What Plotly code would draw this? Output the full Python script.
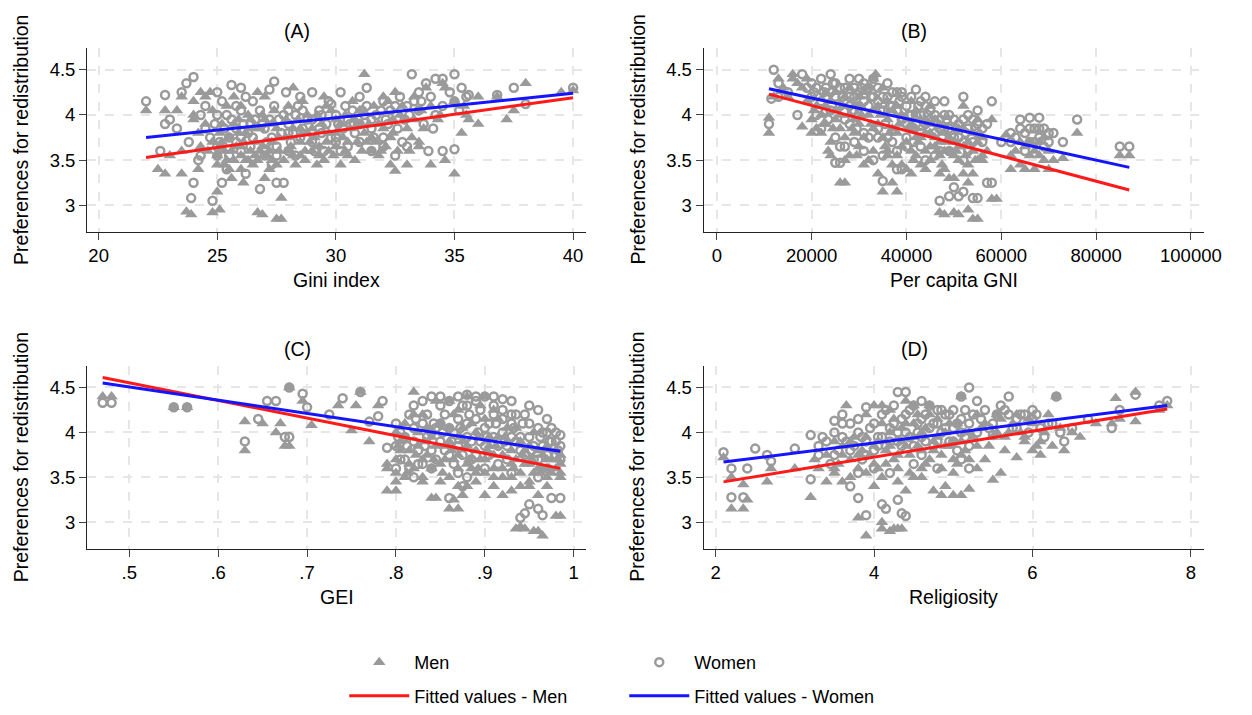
import plotly.graph_objects as go

# ---------------- data ----------------
# Panel A: Gini index
gini_men = [(22,4.05),(22.5,3.4),(22.8,3.35),(22.8,4.05),(23,3.55),(23.3,4.05),(23.5,3.35),(23.5,3.6),(23.7,2.93),(23.9,2.9),
            (24,3.95),(24,4.15),(24.2,3.4),(24.3,3.65),(24.5,4.2),(24.7,4.25),(24.8,2.92),(25,3.45),(25,3.15),(25.1,2.95),
            (25.2,3.7),(25.5,3.4),(25.7,3.5),(26,4.1),(26.2,3.5),(26.5,3.45),(26.6,3.7),(26.7,2.92),(26.9,2.9),(27,3.3),
            (27,4.2),(27.3,3.9),(27.5,2.85),(27.7,2.85),(27.7,3.08),(28,3.6),(28.2,4.3),(28.5,3.55),(28.8,4.0),(29,3.6),
            (29.5,3.5),(29.7,3.6),(30,3.8),(30.5,3.55),(31,3.9),(31.2,4.45),(31.5,3.6),(32,4.2),(32.3,3.45),(32.5,3.38),
            (33,3.45),(33.3,4.2),(33.5,3.65),(34,3.45),(34.3,3.95),(34.5,4.35),(34.6,3.5),(35,3.35),(35.3,3.8),(35.6,3.95),
            (36.8,4.2),(37.2,3.95),(37.5,4.05),(38,4.35),(39.5,4.25),(40,4.27),
            (25,3.55),(25.3,3.6),(25.5,3.75),(25.8,3.65),(26,3.55),(26.2,3.8),(26.4,3.6),(26.7,3.5),(26.9,3.65),(27.1,3.55),
            (27.3,3.7),(27.6,3.6),(27.9,3.75),(28.2,3.85),(28.5,3.7),(28.8,3.8),(29.1,3.75),(29.4,3.9),(29.7,3.8),(30,3.65),
            (30.3,3.75),(30.6,3.85),(30.9,3.7),(31.2,3.8),(31.5,3.75),(31.8,3.9),(32.1,3.65),(32.4,3.95),(32.7,4.0),(33,3.85),
            (33.3,3.95),(24.5,3.9),(24.8,3.7),(25.2,3.9),(25.9,3.95),(26.3,4.0),(26.8,3.85),(27.4,4.05),(28,4.1),(28.6,4.15),
            (29.2,4.0),(29.8,4.05),(30.4,4.0),(31,4.05),(31.6,4.1),(32.2,4.15),(32.8,4.1),(33.6,4.05),(34,4.1),(35,4.15),
            (35.5,4.0),(36,3.9),(23.5,4.2),(24,4.0),(24.2,3.8),(24.6,3.6),(26,3.4),(27.5,3.45),(28.7,3.5),(30.2,3.45),
            (31.8,3.55),(33.5,3.7),
            (24.8,4.05),(25.1,3.8),(25.4,4.1),(25.6,3.6),(25.9,3.8),(26.1,3.7),(26.4,3.95),(26.6,3.55),(26.9,4.0),(27.2,3.6),
            (27.5,3.85),(27.8,3.5),(28.1,3.65),(28.4,3.95),(28.7,3.6),(29,3.85),(29.3,3.65),(29.6,4.1),(29.9,3.55),(30.2,3.9),
            (30.5,3.7),(30.8,3.95),(31.1,3.6),(31.4,3.9),(31.7,3.7),(32,3.85),(32.3,3.75),(32.6,3.6),(32.9,3.95),(33.2,3.75),
            (25.3,3.45),(25.6,3.3),(26.1,3.25),(27.2,3.4),(28.3,3.45),(29.2,3.45),(24.3,4.25),(25.7,4.2),(26.7,4.25),(29.5,4.2),
            (30.7,4.15),(32.5,4.25),(33.8,4.3),(34.6,4.3),(35.4,4.1),(36,4.2),
            (25.1,3.65),(25.4,3.5),(25.7,3.9),(26.0,3.65),(26.3,3.5),(26.5,3.85),(26.8,3.6),(27.0,3.95),(27.3,3.5),(27.6,3.75),
            (27.9,3.95),(28.2,3.55),(28.5,3.85),(28.9,3.7),(29.3,3.55),(29.6,3.7),(30.0,3.95),(30.4,3.6),(30.8,3.5),(31.3,3.7),
            (31.9,3.6),(32.4,3.8),(33.1,3.6),(33.7,3.85),(34.4,4.0)]
gini_women = [(22,4.15),(22.6,3.6),(22.8,4.22),(23.0,3.95),(23.5,4.25),(23.7,4.35),(24,4.42),(24,3.25),(24.2,3.5),(23.9,3.08),
              (24.3,4.0),(24.5,3.85),(24.8,3.05),(25,3.55),(25,4.25),(25.2,3.25),(25.6,4.33),(25.8,4.1),(26,3.75),(26.4,3.9),
              (26.5,4.15),(26.8,3.18),(27,3.6),(27.2,4.28),(27.4,4.37),(27.5,3.25),(27.8,3.25),(28,3.8),(28,4.05),(28.5,4.2),
              (29,4.25),(29.3,3.85),(29.8,4.12),(30,3.7),(30.5,3.95),(31,4.2),(31.5,3.95),(32,3.65),(32.5,3.55),(32.8,3.7),
              (33,3.65),(33.2,4.45),(33.5,4.25),(33.9,3.6),(34.2,4.4),(34.5,3.6),(35,3.62),(35,4.45),(35.3,4.3),(35.5,4.2),
              (36.8,4.22),(37.5,4.3),(38,4.12),(40,4.3),
              (24.5,4.1),(25,4.0),(25.3,3.85),(25.6,3.95),(26,4.05),(26.3,3.8),(26.6,3.95),(27,3.85),(27.3,3.75),(27.6,3.95),
              (28,3.9),(28.3,4.0),(28.6,3.85),(29,3.95),(29.3,4.05),(29.6,3.9),(30,4.0),(30.3,3.85),(30.7,4.05),(31,3.9),
              (31.3,4.1),(31.7,4.0),(32,4.15),(32.3,4.05),(32.7,4.2),(33,4.1),(33.5,4.05),(34,4.2),(34.5,4.1),(35,4.15),
              (35.6,4.22),(25,3.65),(25.5,3.55),(26,3.6),(26.5,3.5),(27,3.55),(27.5,3.65),(28,3.6),(28.5,3.75),(29,3.7),
              (29.5,3.6),(30,3.75),(30.5,3.65),(31,3.7),(31.5,3.6),(32,3.75),(23.3,3.85),(23.8,3.7),(24.3,3.55),(22.8,3.9),
              (24.7,3.75),(25.2,4.15),(25.5,3.75),(25.8,3.85),(26.2,4.2),(26.4,3.65),(26.8,4.05),(27.1,3.7),(27.4,4.1),(27.7,3.8),
              (28.1,3.7),(28.4,4.1),(28.8,3.95),(29.1,3.6),(29.4,3.8),(29.7,4.15),(30.1,3.9),(30.4,4.1),(30.8,3.8),(31.2,4.0),
              (31.5,3.85),(31.9,4.05),(32.2,3.9),(32.5,4.1),(32.9,3.95),(33.3,4.15),(33.7,3.9),(34.2,4.0),(34.8,4.25),(25.4,3.4),
              (26.2,3.35),(27.3,3.45),(28.3,3.55),(24.9,3.9),(26,4.3),(27.9,4.25),(30.2,4.25),(31.3,4.3),(33.8,4.35),(34.5,4.4),
              (25.1,3.7),(25.4,4.0),(25.8,3.7),(26.1,3.9),(26.5,3.75),(26.9,3.9),(27.2,3.95),(27.5,3.55),(27.8,4.0),(28.2,3.8),
              (28.6,4.05),(29,3.8),(29.4,4.0),(29.8,3.75),(30.2,3.6),(30.6,3.9),(31.1,4.05),(31.6,3.75),(32.1,3.95),(32.6,3.85),
              (33.1,4.0),(33.6,4.15),(34.1,3.85),(35.2,4.05)]
gini_fit_x = [22, 40]
gini_fit_men = [3.53, 4.19]
gini_fit_women = [3.75, 4.24]

# Panel B: Per capita GNI
gni_men = [(11000,3.8),(11000,3.97),(12000,4.2),(13000,4.4),(16000,4.45),(18000,3.87),(19000,4.4),(20000,3.8),(22000,3.8),(23000,4.25),
           (24000,3.7),(25000,3.95),(26000,3.25),(27000,3.25),(28000,3.55),(29000,3.8),(30000,4.1),(31000,3.45),(32000,3.5),(33000,4.4),
           (33500,4.45),(34000,3.35),(35000,3.15),(36000,3.6),(37000,3.25),(38000,3.15),(38000,3.55),(40000,3.4),(41000,3.35),(42000,3.75),
           (43000,3.45),(44000,3.95),(45000,4.1),(46000,3.65),(47000,2.92),(48000,2.9),(49000,3.3),(50000,2.92),(51000,2.9),(52000,3.35),
           (52000,4.1),(53000,2.95),(54000,2.85),(55000,2.85),(55000,3.5),(56000,3.5),(57000,3.6),(58000,3.07),(59000,3.07),(58000,3.95),
           (61000,3.78),(62000,3.4),(64000,3.45),(65000,3.4),(66000,3.55),(67000,3.4),(68000,3.7),(69000,3.5),(70000,3.4),(71000,3.5),
           (73000,3.52),(76000,3.8),(85000,3.55),(87000,3.55),
           (20000,3.95),(21000,4.1),(22000,4.0),(23000,3.9),(24000,4.15),(25000,4.05),(26000,3.85),(27000,4.2),(28000,4.0),(29000,4.1),
           (30000,3.9),(31000,4.25),(32000,4.0),(33000,3.85),(34000,4.1),(35000,4.3),(36000,3.95),(37000,4.05),(38000,3.8),(39000,4.0),
           (40000,3.7),(41000,3.9),(42000,4.05),(43000,3.75),(44000,3.6),(45000,3.8),(46000,3.95),(47000,3.7),(48000,3.6),(49000,3.75),
           (50000,3.55),(51000,3.85),(52000,3.65),(53000,3.45),(54000,3.8),(55000,3.7),(56000,3.55),(63000,3.6),(65000,3.65),(66000,3.7),
           (68000,3.55),(70000,3.6),(14000,4.3),(15000,4.2),(17000,4.35),(19000,4.15),(30000,3.65),(33000,3.6),(36000,3.55),(39000,3.45),
           (42000,3.55),(45000,3.5),(48000,3.4),(51000,3.5),(54000,3.35),
           (21000,3.85),(23000,4.1),(25000,4.25),(26000,4.0),(27000,3.75),(28000,4.3),(29000,3.95),(30000,4.2),(31000,3.75),(32000,4.3),
           (33000,4.05),(34000,3.9),(35000,3.75),(36000,4.15),(37000,3.85),(38000,4.1),(39000,3.65),(40000,3.95),(41000,4.15),(42000,3.85),
           (43000,3.95),(44000,3.8),(45000,3.65),(46000,3.75),(47000,3.55),(48000,3.8),(49000,3.6),(50000,3.7),(51000,3.65),(52000,3.85),
           (53000,3.7),(54000,3.6),(55000,3.95),(56000,3.75),(62000,3.55),(64000,3.7),(67000,3.6),(69000,3.75),(24000,3.55),(27000,3.5),
           (37000,3.45),(41000,3.6),(44000,3.4),(47000,3.35),(50000,3.3),(53000,3.25),(18000,4.3),(16000,4.4),
           (20500,4.05),(22500,3.9),(24500,3.85),(26500,4.1),(28500,3.85),(30500,4.0),(32500,3.9),(34500,4.0),(36500,3.8),(38500,3.9),
           (40500,3.85),(42500,3.7),(44500,3.9),(46500,3.6),(48500,3.7),(50500,3.6),(52500,3.55),(54500,3.5),(23500,3.6),(29500,3.55),
           (35500,3.65),(41500,3.5),(47500,3.45)]
gni_women = [(11000,3.9),(11500,4.18),(12000,4.5),(13000,4.35),(17000,4.0),(18000,4.45),(19000,4.3),(21000,4.0),(23000,4.3),(24000,4.45),
             (25000,3.47),(26000,3.47),(27000,3.65),(28000,4.1),(29000,4.2),(30000,4.4),(31000,3.6),(32000,3.75),(33000,3.5),(34000,3.75),
             (35000,3.27),(36000,3.75),(38000,3.4),(39000,3.4),(39000,4.25),(40000,3.65),(41000,4.0),(42000,4.28),(43000,3.8),(44000,4.1),
             (46000,4.0),(47000,3.05),(48000,4.15),(49000,3.1),(50000,3.2),(51000,3.1),(52000,3.15),(52000,4.2),(53000,3.6),(54000,3.08),
             (55000,3.08),(55000,4.05),(56000,3.7),(57000,3.25),(58000,4.15),(58000,3.25),(60000,3.7),(62000,3.8),(64000,3.95),(65000,3.6),
             (66000,3.97),(68000,3.97),(69000,3.85),(70000,3.8),(71000,3.8),(73000,3.7),(76000,3.95),(85000,3.65),(87000,3.65),
             (20000,4.2),(21000,4.3),(22000,4.15),(23000,4.05),(24000,4.25),(25000,4.35),(26000,4.1),(27000,4.3),(28000,4.2),(29000,4.05),
             (30000,4.25),(31000,4.35),(32000,4.1),(33000,4.2),(34000,4.3),(35000,4.05),(36000,4.2),(37000,4.1),(38000,4.25),(39000,3.95),
             (40000,4.1),(41000,3.85),(42000,4.0),(43000,4.15),(44000,3.9),(45000,4.05),(46000,3.8),(47000,3.95),(48000,3.85),(49000,4.0),
             (50000,3.75),(51000,3.9),(52000,3.7),(53000,3.85),(54000,3.95),(55000,3.8),(57000,3.9),(63000,3.75),(65000,3.8),(66000,3.7),
             (67000,3.85),(68000,3.75),(69000,3.65),(22000,3.85),(25000,3.75),(28000,3.9),(31000,3.8),(34000,3.85),(37000,3.7),(40000,3.75),
             (43000,3.65),(46000,3.55),(49000,3.6),(15000,4.25),(13000,4.2),
             (20000,4.35),(22000,4.4),(23000,4.2),(24000,4.05),(25000,4.2),(26000,4.3),(27000,3.95),(28000,4.4),(29000,4.3),(30000,4.1),
             (31000,4.15),(32000,4.3),(33000,4.4),(34000,4.15),(35000,4.2),(36000,4.35),(37000,4.25),(38000,4.05),(39000,4.2),(40000,3.9),
             (41000,4.2),(42000,3.9),(43000,4.0),(44000,4.2),(45000,3.95),(46000,4.15),(47000,3.85),(48000,4.0),(49000,3.85),(50000,3.95),
             (51000,3.75),(52000,3.95),(53000,4.0),(54000,3.7),(55000,3.9),(56000,3.85),(62000,3.7),(64000,3.85),(66000,3.85),(67000,3.7),
             (68000,3.85),(70000,3.7),(26000,3.65),(29000,3.7),(35000,3.55),(38000,3.6),(44000,3.5),(47000,3.6),(52000,3.5),
             (20500,4.25),(22500,4.25),(24500,4.35),(26500,4.2),(28500,4.05),(30500,4.3),(32500,4.2),(34500,4.05),(36500,4.1),(38500,4.15),
             (40500,4.0),(42500,4.1),(44500,4.0),(46500,3.9),(48500,3.95),(50500,3.85),(52500,3.8),(54500,3.85),(23500,3.95),(29500,3.85),
             (35500,3.9),(41500,3.7),(47500,3.75)]
gni_fit_x = [11000, 87000]
gni_fit_men = [4.23, 3.17]
gni_fit_women = [4.29, 3.42]

# Panel C: GEI
gei_men = [(0.47,4.4),(0.48,4.4),(0.55,4.28),(0.565,4.28),(0.63,3.8),(0.63,4.12),(0.65,4.1),(0.665,4.0),(0.67,4.1),(0.675,3.85),
           (0.68,3.85),(0.68,4.5),(0.695,4.35),(0.705,4.08),(0.735,4.3),(0.75,4.02),(0.755,4.3),(0.76,4.45),(0.77,3.9),(0.78,4.3),
           (0.79,3.65),(0.79,3.35),(0.80,3.45),(0.80,3.35),(0.81,3.5),(0.82,4.45),(0.83,3.5),(0.84,3.27),(0.845,3.27),(0.85,3.45),
           (0.86,3.15),(0.865,3.25),(0.87,3.15),(0.875,3.3),(0.88,3.4),(0.89,3.55),(0.9,3.3),(0.91,3.5),(0.92,3.3),(0.93,3.35),
           (0.935,2.93),(0.94,2.95),(0.945,2.93),(0.95,3.4),(0.955,2.9),(0.96,2.9),(0.965,2.85),(0.97,3.5),(0.98,3.07),(0.985,3.07),
           (0.985,3.5),(0.985,3.75),
           (0.80,3.7),(0.805,3.9),(0.81,4.1),(0.815,3.8),(0.82,3.6),(0.825,4.0),(0.83,4.2),(0.835,3.75),(0.84,3.95),(0.845,4.35),
           (0.85,3.65),(0.855,3.85),(0.86,4.05),(0.865,3.7),(0.87,4.25),(0.875,3.9),(0.88,3.65),(0.885,4.1),(0.89,3.8),(0.895,4.3),
           (0.90,3.7),(0.905,3.95),(0.91,3.6),(0.915,4.15),(0.92,3.75),(0.925,3.9),(0.93,3.65),(0.935,4.05),(0.94,3.55),(0.945,3.8),
           (0.95,3.65),(0.955,4.0),(0.96,3.6),(0.965,3.75),(0.97,3.85),(0.975,3.7),(0.98,3.6),(0.985,3.65),(0.83,3.45),(0.86,3.5),
           (0.89,3.45),(0.92,3.5),(0.95,3.45),(0.87,3.6),(0.90,3.55),(0.93,3.5),
           (0.80,3.55),(0.805,3.8),(0.81,3.95),(0.815,3.65),(0.82,4.2),(0.825,3.85),(0.83,3.7),(0.835,4.05),(0.84,3.6),(0.845,3.85),
           (0.85,4.1),(0.855,3.7),(0.86,3.9),(0.865,4.2),(0.87,3.75),(0.875,4.05),(0.88,3.85),(0.885,3.6),(0.89,4.0),(0.895,3.7),
           (0.90,4.15),(0.905,3.85),(0.91,3.75),(0.915,3.95),(0.92,3.6),(0.925,4.05),(0.93,3.8),(0.935,3.7),(0.94,3.9),(0.945,3.65),
           (0.95,3.85),(0.955,3.55),(0.96,3.8),(0.965,3.6),(0.97,3.7),(0.975,3.55),(0.98,3.8),(0.985,3.55),(0.86,4.35),(0.88,4.4),
           (0.90,4.4),(0.91,4.25),(0.87,3.4),(0.91,3.4),(0.94,3.4),(0.97,3.4),(0.96,3.3),(0.79,3.6),(0.80,4.0),
           (0.8025,3.85),(0.8125,3.55),(0.8225,3.75),(0.8325,3.9),(0.8425,3.7),(0.8525,3.55),(0.8625,3.8),(0.8725,3.95),(0.8825,3.7),
           (0.8925,3.6),(0.9025,3.8),(0.9125,3.85),(0.9225,3.95),(0.9325,3.6),(0.9425,3.75),(0.9525,3.7),(0.9625,3.55),(0.9725,3.6),
           (0.9825,3.7)]
gei_women = [(0.47,4.33),(0.48,4.33),(0.55,4.28),(0.565,4.28),(0.63,3.9),(0.645,4.15),(0.655,4.35),(0.665,4.35),(0.675,3.95),(0.68,3.95),
             (0.68,4.5),(0.695,4.43),(0.70,4.28),(0.725,4.2),(0.74,4.38),(0.76,4.45),(0.77,4.12),(0.78,4.18),(0.785,4.35),(0.79,3.83),
             (0.80,3.6),(0.82,4.3),(0.84,4.4),(0.85,4.3),(0.86,3.27),(0.87,4.4),(0.875,3.4),(0.88,4.42),(0.89,4.4),(0.9,4.4),
             (0.91,4.3),(0.92,4.37),(0.93,4.35),(0.94,3.05),(0.945,3.1),(0.95,3.2),(0.96,3.15),(0.965,3.08),(0.97,4.0),(0.98,4.0),
             (0.985,3.97),(0.985,3.27),(0.975,3.27),
             (0.80,3.85),(0.805,4.0),(0.81,3.7),(0.815,4.2),(0.82,3.9),(0.825,3.65),(0.83,4.1),(0.835,3.95),(0.84,3.8),(0.845,4.05),
             (0.85,3.9),(0.855,4.2),(0.86,3.75),(0.865,4.0),(0.87,3.85),(0.875,4.3),(0.88,3.95),(0.885,3.7),(0.89,4.15),(0.895,3.9),
             (0.90,4.05),(0.905,3.75),(0.91,4.2),(0.915,3.85),(0.92,4.0),(0.925,3.7),(0.93,4.1),(0.935,3.9),(0.94,3.8),(0.945,4.2),
             (0.95,3.95),(0.955,3.7),(0.96,4.05),(0.965,3.85),(0.97,3.6),(0.975,3.9),(0.98,3.75),(0.985,3.85),(0.84,3.6),(0.87,3.55),
             (0.90,3.6),(0.93,3.55),(0.96,3.5),(0.86,4.35),(0.89,4.35),(0.92,4.25),
             (0.80,4.1),(0.805,3.7),(0.81,3.95),(0.815,3.6),(0.82,4.05),(0.825,3.8),(0.83,3.65),(0.835,4.2),(0.84,4.0),(0.845,3.7),
             (0.85,4.1),(0.855,3.8),(0.86,4.05),(0.865,3.65),(0.87,4.15),(0.875,3.75),(0.88,4.1),(0.885,3.9),(0.89,3.75),(0.895,4.25),
             (0.90,3.85),(0.905,4.1),(0.91,3.95),(0.915,3.65),(0.92,4.15),(0.925,3.85),(0.93,3.95),(0.935,4.2),(0.94,3.95),(0.945,3.75),
             (0.95,4.1),(0.955,3.85),(0.96,3.7),(0.965,4.0),(0.97,3.75),(0.975,4.05),(0.98,3.9),(0.985,3.7),(0.83,4.35),(0.85,4.4),
             (0.88,4.3),(0.91,4.4),(0.93,4.2),(0.95,4.3),(0.96,4.25),(0.97,4.15),(0.82,3.5),(0.88,3.5),
             (0.8025,3.95),(0.8125,3.85),(0.8225,4.15),(0.8325,3.85),(0.8425,4.1),(0.8525,4.0),(0.8625,3.9),(0.8725,4.05),(0.8825,4.2),
             (0.8925,4.0),(0.9025,3.95),(0.9125,4.1),(0.9225,3.9),(0.9325,4.05),(0.9425,4.1),(0.9525,3.8),(0.9625,3.95),(0.9725,3.9),
             (0.9825,3.8)]
gei_fit_x = [0.47, 0.985]
gei_fit_men = [4.61, 3.60]
gei_fit_women = [4.55, 3.79]

# Panel D: Religiosity
rel_men = [(2.1,3.72),(2.2,3.15),(2.2,3.5),(2.35,3.15),(2.35,3.42),(2.4,3.25),(2.65,3.45),(2.7,3.6),(3.0,3.6),(3.2,3.28),
           (3.25,3.7),(3.5,3.6),(3.65,4.3),(3.7,3.5),(3.8,3.05),(3.9,2.85),(4.0,4.3),(4.1,3.0),(4.1,2.93),(4.2,2.9),
           (4.25,2.93),(4.3,2.93),(4.35,2.93),(4.4,3.35),(4.5,3.5),(4.6,3.6),(4.75,3.35),(4.85,3.3),(4.9,3.4),(5.0,3.3),
           (5.1,3.3),(5.2,3.37),(5.1,4.4),(5.3,4.2),(5.4,3.7),(5.5,3.47),(5.55,4.2),(5.6,3.55),(5.65,3.8),(5.8,3.72),
           (5.9,3.9),(6.0,3.8),(6.1,3.75),(6.2,4.2),(6.3,4.4),(6.4,3.8),(6.5,4.0),(6.6,3.95),(6.8,4.1),(7.0,4.1),
           (7.05,4.38),(7.1,4.15),(7.3,4.45),(7.3,4.12),(7.6,4.25),(7.7,4.3),
           (3.4,3.75),(3.5,3.9),(3.55,3.65),(3.6,3.85),(3.7,3.7),(3.75,3.95),(3.8,3.6),(3.85,3.8),(3.9,3.55),(3.95,3.75),
           (4.0,3.65),(4.05,3.9),(4.1,3.5),(4.15,3.8),(4.2,4.0),(4.25,3.7),(4.3,3.6),(4.35,3.9),(4.4,4.1),(4.45,3.75),
           (4.5,3.95),(4.55,4.2),(4.6,3.8),(4.65,4.05),(4.7,3.7),(4.75,3.9),(4.8,4.15),(4.85,3.75),(4.9,4.0),(4.95,3.85),
           (5.0,3.7),(5.05,4.1),(5.1,3.9),(5.15,3.8),(5.2,4.0),(5.3,3.85),(5.4,4.1),(5.5,3.95),(5.6,4.15),(5.7,4.0),
           (5.8,4.2),(5.9,3.95),(6.0,4.1),(6.1,3.9),(3.9,4.2),(4.2,4.25),(4.5,4.3),(3.6,3.45),(4.0,3.4),(4.3,3.45),
           (4.6,3.5),(5.0,3.55),(5.3,3.6),
           (3.5,3.55),(3.6,3.75),(3.7,3.9),(3.8,3.75),(3.9,3.95),(4.0,3.85),(4.05,3.6),(4.1,4.1),(4.15,3.65),(4.2,3.85),
           (4.25,4.15),(4.3,3.75),(4.35,4.05),(4.4,3.85),(4.45,3.55),(4.5,4.1),(4.55,3.85),(4.6,4.0),(4.65,3.65),(4.7,4.2),
           (4.75,3.8),(4.8,3.95),(4.85,3.6),(4.9,3.85),(4.95,4.1),(5.0,3.9),(5.05,3.65),(5.1,3.75),(5.15,4.0),(5.2,3.7),
           (5.25,3.95),(5.35,4.05),(5.45,3.85),(5.55,4.0),(5.65,3.95),(5.75,4.1),(5.85,4.0),(5.95,4.15),(6.05,3.85),(6.15,4.0),
           (6.25,3.85),(6.35,4.05),(3.3,3.6),(3.4,3.45),(4.1,4.3),(4.4,4.35),(4.7,4.3)]
rel_women = [(2.1,3.78),(2.2,3.6),(2.2,3.28),(2.35,3.28),(2.4,3.6),(2.5,3.82),(2.65,3.75),(2.7,3.68),(3.0,3.82),(3.2,3.48),
             (3.2,3.97),(3.3,3.85),(3.5,4.13),(3.6,4.2),(3.8,3.27),(3.9,3.08),(3.9,4.28),(4.1,3.2),(4.15,3.15),(4.3,3.25),
             (4.3,4.45),(4.35,3.1),(4.4,3.07),(4.4,4.45),(4.6,4.35),(4.8,4.25),(5.0,4.25),(5.1,4.4),(5.2,4.5),(5.2,3.6),
             (5.3,4.35),(5.5,3.97),(5.7,4.4),(5.8,4.15),(6.0,4.25),(6.2,4.1),(6.3,4.4),(6.4,3.9),(6.5,4.05),(6.7,4.15),
             (7.0,4.05),(7.1,4.25),(7.3,4.42),(7.6,4.3),(7.7,4.35),
             (3.4,3.9),(3.5,4.0),(3.55,3.8),(3.6,3.95),(3.7,4.1),(3.75,3.85),(3.8,4.0),(3.85,3.7),(3.9,3.9),(3.95,4.05),
             (4.0,3.8),(4.05,3.95),(4.1,4.2),(4.15,3.85),(4.2,4.05),(4.25,4.3),(4.3,3.9),(4.35,4.15),(4.4,4.0),(4.45,4.25),
             (4.5,3.85),(4.55,4.1),(4.6,3.95),(4.65,4.2),(4.7,4.05),(4.75,3.85),(4.8,4.1),(4.85,4.0),(4.9,4.2),(4.95,3.9),
             (5.0,4.05),(5.05,3.8),(5.1,4.15),(5.15,3.95),(5.2,4.1),(5.3,4.0),(5.4,4.25),(5.5,4.1),(5.6,4.3),(5.7,4.2),
             (5.8,4.05),(5.9,4.2),(6.0,4.15),(6.1,4.05),(3.8,3.55),(4.0,3.6),(4.2,3.55),(4.5,3.65),(4.8,3.6),(5.1,3.7),
             (3.7,3.4),(4.6,3.75),
             (3.5,3.75),(3.6,4.1),(3.65,3.9),(3.7,3.8),(3.8,4.15),(3.85,3.95),(3.9,3.75),(4.0,4.1),(4.05,3.85),(4.1,3.95),
             (4.15,4.25),(4.2,3.9),(4.25,4.1),(4.3,4.0),(4.35,3.85),(4.4,4.2),(4.45,3.95),(4.5,4.3),(4.55,4.0),(4.6,4.15),
             (4.65,3.9),(4.7,4.3),(4.75,4.1),(4.8,3.9),(4.85,4.25),(4.9,4.05),(4.95,4.2),(5.0,3.9),(5.05,4.1),(5.1,4.0),
             (5.15,4.25),(5.2,3.85),(5.25,4.2),(5.35,4.15),(5.45,4.05),(5.55,4.2),(5.65,4.25),(5.75,4.05),(5.85,4.2),(5.95,4.0),
             (6.05,4.2),(6.15,3.95),(6.25,4.1),(6.35,4.0),(3.3,3.75),(3.35,3.95),(3.45,3.65)]
rel_fit_x = [2.1, 7.7]
rel_fit_men = [3.45, 4.26]
rel_fit_women = [3.67, 4.30]

y_tickvals = [3, 3.5, 4, 4.5]
y_ticktext = ["3", "3.5", "4", "4.5"]
panel_titles = ["(A)", "(B)", "(C)", "(D)"]
x_titles = ["Gini index", "Per capita GNI", "GEI", "Religiosity"]
y_title = "Preferences for redistribution"
x_tickvals = [[20, 25, 30, 35, 40], [0, 20000, 40000, 60000, 80000, 100000],
              [0.5, 0.6, 0.7, 0.8, 0.9, 1.0], [2, 4, 6, 8]]
x_ticktext = [["20", "25", "30", "35", "40"], ["0", "20000", "40000", "60000", "80000", "100000"],
              [".5", ".6", ".7", ".8", ".9", "1"], ["2", "4", "6", "8"]]

# ---------------- layout geometry ----------------
W, H = 1252, 715
FONT = "Liberation Sans, Arial, sans-serif"
GREY = "#9a9a9a"
RED = "#ff1a1a"
BLUE = "#1414ff"

# plot-area pixel boxes: (left, right, top, bottom)
boxes = [(88.3, 594.3, 48.3, 234.3), (713.3, 1220.7, 48.3, 234.3),
         (88.3, 594.3, 369.3, 554.3), (713.3, 1220.7, 369.3, 554.3)]
x_ranges = [[19.514, 40.553], [-2788, 102788], [0.4525, 1.0141], [1.849, 8.166]]
y_range = [2.705, 4.742]

panels = [
    (gini_men, gini_women, gini_fit_x, gini_fit_men, gini_fit_women),
    (gni_men, gni_women, gni_fit_x, gni_fit_men, gni_fit_women),
    (gei_men, gei_women, gei_fit_x, gei_fit_men, gei_fit_women),
    (rel_men, rel_women, rel_fit_x, rel_fit_men, rel_fit_women),
]

fig = go.Figure()
annotations = []
for i, (men, women, fx, fm, fw) in enumerate(panels):
    xa = "x" if i == 0 else f"x{i+1}"
    ya = "y" if i == 0 else f"y{i+1}"
    first = i == 0
    fig.add_trace(go.Scatter(
        x=[p[0] for p in men], y=[p[1] for p in men], mode="markers", name="Men",
        marker=dict(symbol="triangle-up", size=11, color=GREY, line=dict(width=0)),
        xaxis=xa, yaxis=ya, showlegend=first, legend="legend"))
    fig.add_trace(go.Scatter(
        x=[p[0] for p in women], y=[p[1] for p in women], mode="markers", name="Women",
        marker=dict(symbol="circle-open", size=8, color=GREY, line=dict(width=2.5, color=GREY)),
        xaxis=xa, yaxis=ya, showlegend=first, legend="legend"))
    fig.add_trace(go.Scatter(
        x=fx, y=fm, mode="lines", name="Fitted values - Men", line=dict(color=RED, width=3),
        xaxis=xa, yaxis=ya, showlegend=first, legend="legend2"))
    fig.add_trace(go.Scatter(
        x=fx, y=fw, mode="lines", name="Fitted values - Women", line=dict(color=BLUE, width=3),
        xaxis=xa, yaxis=ya, showlegend=first, legend="legend2"))

    l, r, t, b = boxes[i]
    ax_common = dict(showline=True, linecolor="#222", linewidth=1, ticks="outside", ticklen=7,
                     tickcolor="#444", showgrid=True, gridcolor="#e6e6e6", gridwidth=1.5,
                     griddash="dash", zeroline=False, tickfont=dict(family=FONT, size=18.5, color="black"))
    fig.update_layout(**{
        ("xaxis" if i == 0 else f"xaxis{i+1}"): dict(
            domain=[l / W, r / W], range=x_ranges[i], tickvals=x_tickvals[i], ticktext=x_ticktext[i],
            anchor=ya, **ax_common),
        ("yaxis" if i == 0 else f"yaxis{i+1}"): dict(
            domain=[1 - b / H, 1 - t / H], range=y_range, tickvals=y_tickvals, ticktext=y_ticktext,
            anchor=xa, **ax_common),
    })
    cx = (l + r) / 2
    annotations.append(dict(text=x_titles[i], x=cx / W, y=1 - (b + 48.5) / H, xref="paper", yref="paper",
                            showarrow=False, xanchor="center", yanchor="middle",
                            font=dict(family=FONT, size=19.5, color="black")))
    annotations.append(dict(text=panel_titles[i], x=(cx - 40) / W,
                            y=1 - (t - 16.5) / H, xref="paper", yref="paper", showarrow=False,
                            xanchor="center", yanchor="middle", font=dict(family=FONT, size=19.5, color="black")))
    annotations.append(dict(text=y_title, x=(l - 67) / W, y=1 - ((t + b) / 2) / H, xref="paper", yref="paper",
                            showarrow=False, xanchor="center", yanchor="middle", textangle=-90,
                            font=dict(family=FONT, size=19.5, color="black")))

legend_common = dict(orientation="h", xanchor="left", yanchor="middle", entrywidth=205, itemwidth=60,
                     entrywidthmode="pixels", bgcolor="rgba(0,0,0,0)", itemclick=False,
                     font=dict(family=FONT, size=18, color="black"), tracegroupgap=0)
fig.update_layout(
    width=W, height=H, margin=dict(l=0, r=0, t=0, b=0),
    paper_bgcolor="white", plot_bgcolor="white",
    annotations=annotations,
    legend=dict(x=349 / W, y=1 - 669 / H, **legend_common),
    legend2=dict(x=349 / W, y=1 - 703 / H, **legend_common),
    font=dict(family=FONT, color="black"),
)

fig.write_html("out.html",
               post_script="document.body.style.margin='0';document.body.style.overflow='hidden';")
